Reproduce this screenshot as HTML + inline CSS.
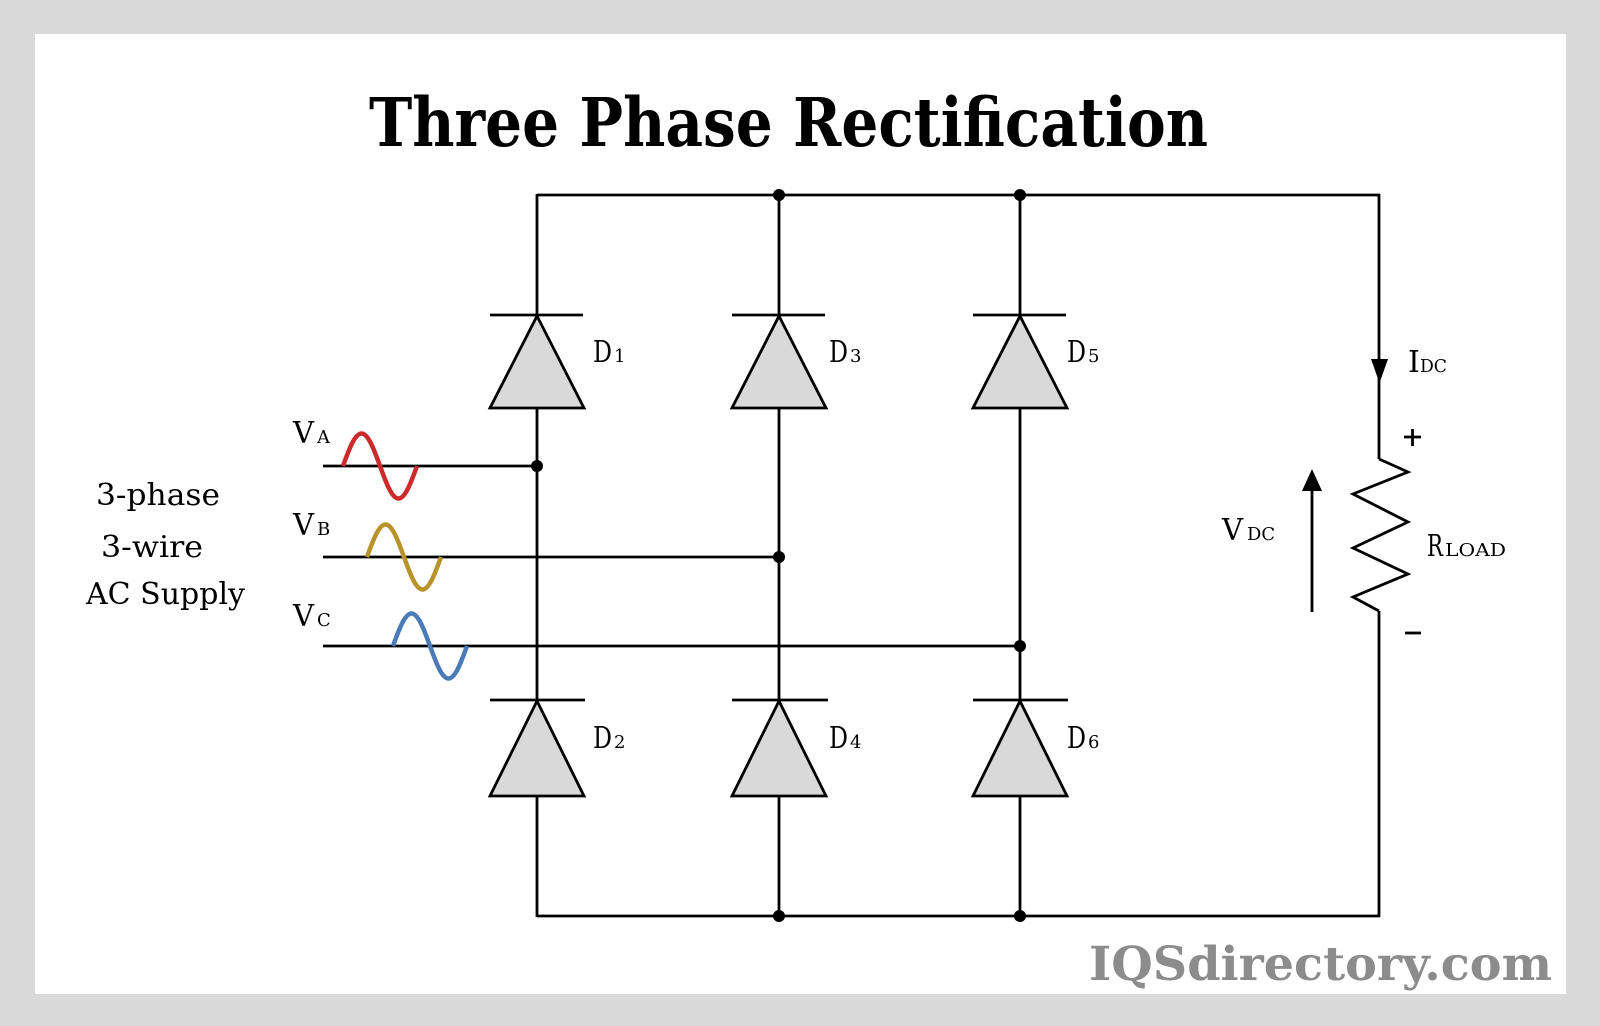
<!DOCTYPE html>
<html>
<head>
<meta charset="utf-8">
<style>
html,body{margin:0;padding:0;background:#d9d9d9;}
svg{display:block;}
text{font-family:"DejaVu Serif","Liberation Serif",serif;}
</style>
</head>
<body>
<svg width="1600" height="1026" viewBox="0 0 1600 1026" xmlns="http://www.w3.org/2000/svg">
  <rect x="0" y="0" width="1600" height="1026" fill="#d9d9d9"/>
  <rect x="35" y="34" width="1531" height="960" fill="#ffffff"/>

  <!-- Title -->
  <text x="369" y="146" font-size="67" font-weight="bold" fill="#000" textLength="839" lengthAdjust="spacingAndGlyphs">Three Phase Rectification</text>

  <g stroke="#000" stroke-width="2.8" fill="none" stroke-linecap="butt">
    <!-- top and bottom rails -->
    <line x1="537" y1="195" x2="1380" y2="195"/>
    <line x1="537" y1="916" x2="1380" y2="916"/>
    <!-- right side -->
    <line x1="1379" y1="194" x2="1379" y2="459"/>
    <polyline points="1379,459 1408,472 1353,494 1408,522 1353,548 1408,574 1353,597 1379,611" stroke-linejoin="miter"/>
    <line x1="1379" y1="611" x2="1379" y2="917"/>

    <!-- columns -->
    <line x1="537" y1="194" x2="537" y2="315"/>
    <line x1="537" y1="408" x2="537" y2="700"/>
    <line x1="537" y1="796" x2="537" y2="917"/>

    <line x1="779" y1="195" x2="779" y2="315"/>
    <line x1="779" y1="408" x2="779" y2="700"/>
    <line x1="779" y1="796" x2="779" y2="916"/>

    <line x1="1020" y1="195" x2="1020" y2="315"/>
    <line x1="1020" y1="408" x2="1020" y2="700"/>
    <line x1="1020" y1="796" x2="1020" y2="916"/>

    <!-- phase wires -->
    <line x1="323" y1="466" x2="537" y2="466"/>
    <line x1="323" y1="557" x2="779" y2="557"/>
    <line x1="323" y1="646" x2="1020" y2="646"/>

    <!-- VDC arrow line -->
    <line x1="1312" y1="612" x2="1312" y2="488"/>
  </g>

  <!-- Diodes -->
  <g stroke="#000" stroke-width="2.8" fill="#d9d9d9" stroke-linejoin="miter">
    <polygon points="537,316 584,408 490,408"/>
    <polygon points="779,316 826,408 732,408"/>
    <polygon points="1020,316 1067,408 973,408"/>
    <polygon points="537,701 584,796 490,796"/>
    <polygon points="779,701 826,796 732,796"/>
    <polygon points="1020,701 1067,796 973,796"/>
  </g>
  <g stroke="#000" stroke-width="2.8">
    <line x1="490" y1="315" x2="583" y2="315"/>
    <line x1="732" y1="315" x2="825" y2="315"/>
    <line x1="973" y1="315" x2="1066" y2="315"/>
    <line x1="490" y1="700" x2="585" y2="700"/>
    <line x1="732" y1="700" x2="828" y2="700"/>
    <line x1="973" y1="700" x2="1068" y2="700"/>
    <!-- plus / minus -->
    <line x1="1404" y1="437" x2="1421" y2="437"/>
    <line x1="1412.5" y1="429" x2="1412.5" y2="446"/>
    <line x1="1405" y1="633" x2="1421" y2="633"/>
  </g>

  <!-- arrowheads -->
  <polygon points="1371,359 1388,359 1379.5,383" fill="#000"/>
  <polygon points="1302,491 1322,491 1312,469" fill="#000"/>

  <!-- junction dots -->
  <g fill="#000">
    <circle cx="779" cy="195" r="6"/>
    <circle cx="1020" cy="195" r="6"/>
    <circle cx="779" cy="916" r="6"/>
    <circle cx="1020" cy="916" r="6"/>
    <circle cx="537" cy="466" r="6"/>
    <circle cx="779" cy="557" r="6"/>
    <circle cx="1020" cy="646" r="6"/>
  </g>

  <!-- Sine waves -->
  <g fill="none" stroke-width="4.5" stroke-linecap="butt">
    <path stroke="#cc2b2b" d="M343,466 C349,449.4 354.8,433.5 361.5,433.5 C368.2,433.5 374,449.4 380,466 C386,482.6 391.8,498.5 398.5,498.5 C405.2,498.5 411,482.6 417,466"/>
    <path stroke="#b8922a" transform="translate(24,91)" d="M343,466 C349,449.4 354.8,433.5 361.5,433.5 C368.2,433.5 374,449.4 380,466 C386,482.6 391.8,498.5 398.5,498.5 C405.2,498.5 411,482.6 417,466"/>
    <path stroke="#4a7bb7" transform="translate(50,180)" d="M343,466 C349,449.4 354.8,433.5 361.5,433.5 C368.2,433.5 374,449.4 380,466 C386,482.6 391.8,498.5 398.5,498.5 C405.2,498.5 411,482.6 417,466"/>
  </g>

  <!-- Labels -->
  <g fill="#000">
    <text x="293" y="443" font-size="30"><tspan textLength="21" lengthAdjust="spacingAndGlyphs">V</tspan><tspan x="317" font-size="18">A</tspan></text>
    <text x="293" y="535" font-size="30"><tspan textLength="21" lengthAdjust="spacingAndGlyphs">V</tspan><tspan x="317" font-size="18">B</tspan></text>
    <text x="293" y="626" font-size="30"><tspan textLength="21" lengthAdjust="spacingAndGlyphs">V</tspan><tspan x="317" font-size="18">C</tspan></text>

    <text x="96" y="505" font-size="30" textLength="124" lengthAdjust="spacingAndGlyphs">3-phase</text>
    <text x="101" y="557" font-size="30" textLength="102" lengthAdjust="spacingAndGlyphs">3-wire</text>
    <text x="86" y="604" font-size="30" textLength="159" lengthAdjust="spacingAndGlyphs">AC Supply</text>

    <text x="593" y="362" font-size="30"><tspan textLength="19" lengthAdjust="spacingAndGlyphs">D</tspan><tspan x="614" font-size="18">1</tspan></text>
    <text x="829" y="362" font-size="30"><tspan textLength="19" lengthAdjust="spacingAndGlyphs">D</tspan><tspan x="850" font-size="18">3</tspan></text>
    <text x="1067" y="362" font-size="30"><tspan textLength="19" lengthAdjust="spacingAndGlyphs">D</tspan><tspan x="1088" font-size="18">5</tspan></text>
    <text x="593" y="748" font-size="30"><tspan textLength="19" lengthAdjust="spacingAndGlyphs">D</tspan><tspan x="614" font-size="18">2</tspan></text>
    <text x="829" y="748" font-size="30"><tspan textLength="19" lengthAdjust="spacingAndGlyphs">D</tspan><tspan x="850" font-size="18">4</tspan></text>
    <text x="1067" y="748" font-size="30"><tspan textLength="19" lengthAdjust="spacingAndGlyphs">D</tspan><tspan x="1088" font-size="18">6</tspan></text>

    <text x="1408" y="372" font-size="30">I<tspan x="1420" font-size="18" textLength="27" lengthAdjust="spacingAndGlyphs">DC</tspan></text>
    <text x="1222" y="540" font-size="30"><tspan textLength="21" lengthAdjust="spacingAndGlyphs">V</tspan><tspan x="1247" font-size="18" textLength="28" lengthAdjust="spacingAndGlyphs">DC</tspan></text>
    <text x="1427" y="556" font-size="30"><tspan textLength="16" lengthAdjust="spacingAndGlyphs">R</tspan><tspan x="1445" font-size="18" textLength="61" lengthAdjust="spacingAndGlyphs">LOAD</tspan></text>
  </g>

  <!-- Watermark -->
  <text x="1089" y="980" font-size="47" font-weight="bold" fill="#8c8c8c" textLength="463" lengthAdjust="spacingAndGlyphs">IQSdirectory.com</text>
</svg>
</body>
</html>
